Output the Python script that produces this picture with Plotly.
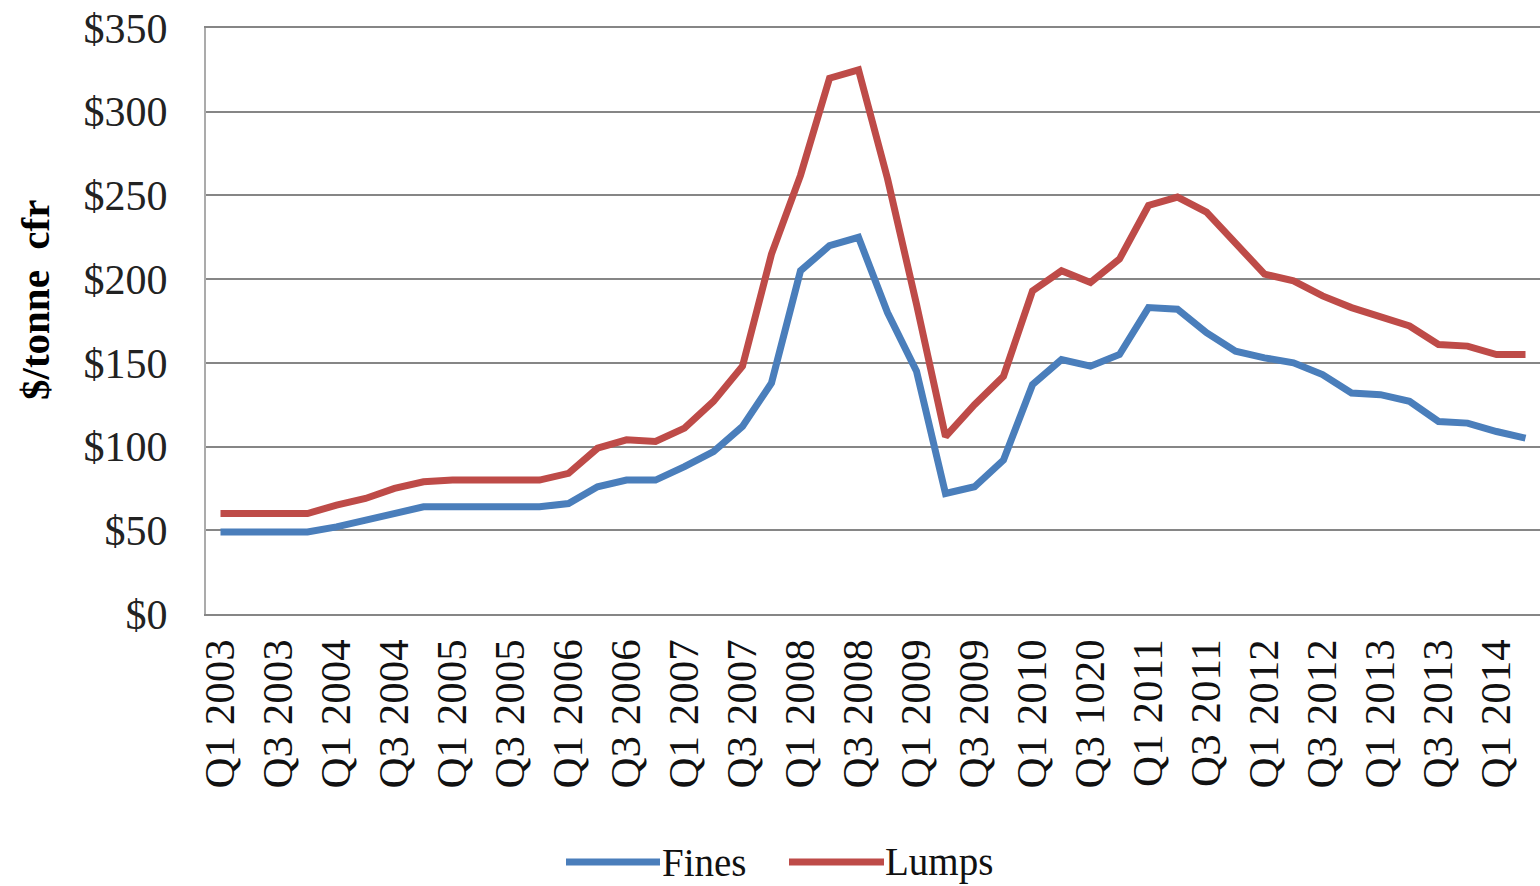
import plotly.graph_objects as go

quarters = [f"Q{q} {y}" for y in range(2003, 2015) for q in range(1, 5)][:46]

tick_labels = ["Q1 2003", "Q3 2003", "Q1 2004", "Q3 2004", "Q1 2005", "Q3 2005",
               "Q1 2006", "Q3 2006", "Q1 2007", "Q3 2007", "Q1 2008", "Q3 2008",
               "Q1 2009", "Q3 2009", "Q1 2010", "Q3 1020", "Q1 2011", "Q3 2011",
               "Q1 2012", "Q3 2012", "Q1 2013", "Q3 2013", "Q1 2014"]

fines = [49, 49, 49, 49, 52, 56, 60, 64, 64, 64, 64, 64, 66, 76, 80, 80,
         88, 97, 112, 138, 205, 220, 225, 180, 145, 72, 76, 92, 137, 152, 148, 155,
         183, 182, 168, 157, 153, 150, 143, 132, 131, 127, 115, 114, 109, 105]

lumps = [60, 60, 60, 60, 65, 69, 75, 79, 80, 80, 80, 80, 84, 99, 104, 103,
         111, 127, 148, 215, 262, 320, 325, 260, 185, 106, 125, 142, 193, 205, 198, 212,
         244, 249, 240, 222, 203, 199, 190, 183, 178, 172, 161, 160, 155, 155]

y_ticks = [0, 50, 100, 150, 200, 250, 300, 350]
y_tick_text = [f"${v}" for v in y_ticks]

BLUE = "#4A7EBB"
RED = "#BE4B48"
FONT = "Liberation Serif"

fig = go.Figure()
fig.add_trace(go.Scatter(x=quarters, y=fines, name="Fines", mode="lines",
                         line=dict(color=BLUE, width=7), showlegend=False))
fig.add_trace(go.Scatter(x=quarters, y=lumps, name="Lumps", mode="lines",
                         line=dict(color=RED, width=7), showlegend=False))

tickvals = quarters[::2]

fig.update_layout(
    width=1540, height=886,
    margin=dict(l=206, r=0, t=28, b=272),
    paper_bgcolor="white", plot_bgcolor="white",
    font=dict(family=FONT, color="#111111", size=36),
    xaxis=dict(
        type="category", automargin=False,
        categoryorder="array", categoryarray=quarters,
        tickmode="array", tickvals=tickvals, ticktext=tick_labels,
        tickangle=-90, tickfont=dict(family=FONT, size=43, color="#111111"),
        showgrid=False, showline=True, linecolor="#868686", linewidth=2, mirror=True,
        ticks="", ticklabelstandoff=6,
        range=[-0.5, 45.5],
    ),
    yaxis=dict(
        range=[0, 350], tickmode="array", tickvals=y_ticks, ticktext=y_tick_text,
        automargin=False,
        tickfont=dict(family=FONT, size=42, color="#222222"),
        showgrid=True, gridcolor="#868686", gridwidth=2,
        showline=True, linecolor="#ABABAB", linewidth=2,
        zeroline=False, ticks="", ticklabelstandoff=28,
    ),
)

# Y-axis title
fig.add_annotation(xref="paper", yref="paper", x=(35 - 206) / 1334, y=(614 - 300) / 586,
                   text="<b>$/tonne  cfr</b>", textangle=-90, showarrow=False,
                   xanchor="center", yanchor="middle",
                   font=dict(family=FONT, size=41, color="#000000"))

# Legend drawn below the plot
legend_y = (614 - 862) / 586
fig.add_shape(type="line", xref="paper", yref="paper",
              x0=(566 - 206) / 1334, x1=(660 - 206) / 1334, y0=legend_y, y1=legend_y,
              line=dict(color=BLUE, width=7))
fig.add_annotation(xref="paper", yref="paper", x=(660 - 206) / 1334, y=legend_y,
                   text="Fines", showarrow=False, xanchor="left", yanchor="middle",
                   font=dict(family=FONT, size=39, color="#111111"))
fig.add_shape(type="line", xref="paper", yref="paper",
              x0=(789 - 206) / 1334, x1=(884 - 206) / 1334, y0=legend_y, y1=legend_y,
              line=dict(color=RED, width=7))
fig.add_annotation(xref="paper", yref="paper", x=(883 - 206) / 1334, y=legend_y,
                   text="Lumps", showarrow=False, xanchor="left", yanchor="middle",
                   font=dict(family=FONT, size=39, color="#111111"))

fig.write_html("out.html", config={"displayModeBar": False},
               post_script="document.body.style.margin='0px';")
